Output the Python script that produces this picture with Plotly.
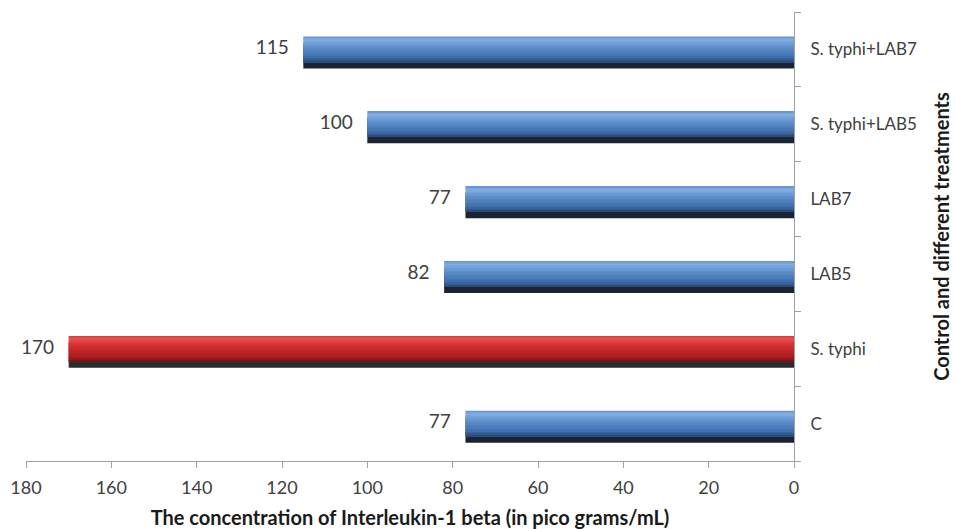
import plotly.graph_objects as go

categories = ["C", "S. typhi", "LAB5", "LAB7", "S. typhi+LAB5", "S. typhi+LAB7"]
values = [77, 170, 82, 77, 100, 115]
is_red = [False, True, False, False, False, False]

# gradient stops (fraction from top of bar, colour)
blue_stops = [(0.0, (98, 141, 200)), (0.12, (132, 176, 226)), (0.3, (108, 155, 212)),
              (0.55, (82, 132, 193)), (0.8, (64, 111, 172)), (0.92, (50, 90, 145)), (1.0, (38, 70, 115))]
red_stops = [(0.0, (210, 52, 52)), (0.12, (232, 84, 80)), (0.3, (218, 54, 54)),
             (0.55, (198, 38, 40)), (0.8, (172, 32, 35)), (0.92, (140, 26, 28)), (1.0, (110, 22, 24))]

def interp(stops, t):
    for (t0, c0), (t1, c1) in zip(stops[:-1], stops[1:]):
        if t0 <= t <= t1:
            f = (t - t0) / (t1 - t0) if t1 > t0 else 0
            return "rgb(%d,%d,%d)" % tuple(round(a + (b - a) * f) for a, b in zip(c0, c1))
    return "rgb(%d,%d,%d)" % stops[-1][1]

W = 0.34
N = 18
h = W / N

fig = go.Figure()
# shadow
fig.add_trace(go.Bar(
    y=categories, x=values, orientation="h", width=W, offset=-W / 2 - 0.085,
    marker=dict(color=["#2b2c31" if r else "#1c2431" for r in is_red], line=dict(width=0)),
    hoverinfo="skip", showlegend=False,
))
for i in range(N):
    t = (i + 0.5) / N  # from top
    cols = [interp(red_stops if r else blue_stops, t) for r in is_red]
    off = W / 2 - (i + 1) * h
    fig.add_trace(go.Bar(
        y=categories, x=values, orientation="h", width=h * 1.08, offset=off,
        marker=dict(color=cols, line=dict(width=0)),
        hoverinfo="skip", showlegend=False,
    ))

fig.add_trace(go.Scatter(
    y=categories, x=values, mode="text",
    text=[f"{v}   " for v in values], textposition="middle left",
    textfont=dict(family="Lato, Open Sans, sans-serif", size=19, color="#404040"),
    showlegend=False, hoverinfo="skip", cliponaxis=False,
))

fig.update_layout(
    width=955, height=529,
    margin=dict(l=26, r=161, t=12, b=68, autoexpand=False),
    barmode="overlay",
    plot_bgcolor="white", paper_bgcolor="white",
    font=dict(family="Lato, Open Sans, sans-serif", size=18, color="#404040"),
    xaxis=dict(
        range=[180, 0], dtick=20, showgrid=False, zeroline=False, automargin=False,
        showline=True, linecolor="#a0a0a0", linewidth=1,
        ticks="outside", ticklen=6, tickcolor="#a0a0a0",
        tickfont=dict(size=18, color="#404040"), ticklabelstandoff=4,
        title=dict(text="<b>The concentration of Interleukin-1 beta (in pico grams/mL)</b>",
                   font=dict(size=20, color="#1a1a1a"), standoff=16),
    ),
    yaxis=dict(
        side="right", showgrid=False, zeroline=False, automargin=False,
        showline=True, linecolor="#a0a0a0", linewidth=1,
        ticks="outside", ticklen=6, tickcolor="#a0a0a0", tickson="boundaries",
        tickfont=dict(size=17, color="#404040"), ticklabelstandoff=12,
        title=dict(text="<b>Control and different treatments</b>",
                   font=dict(size=20, color="#1a1a1a"), standoff=18),
        range=[-0.5, 5.5],
    ),
)

fig.write_html("out.html")
